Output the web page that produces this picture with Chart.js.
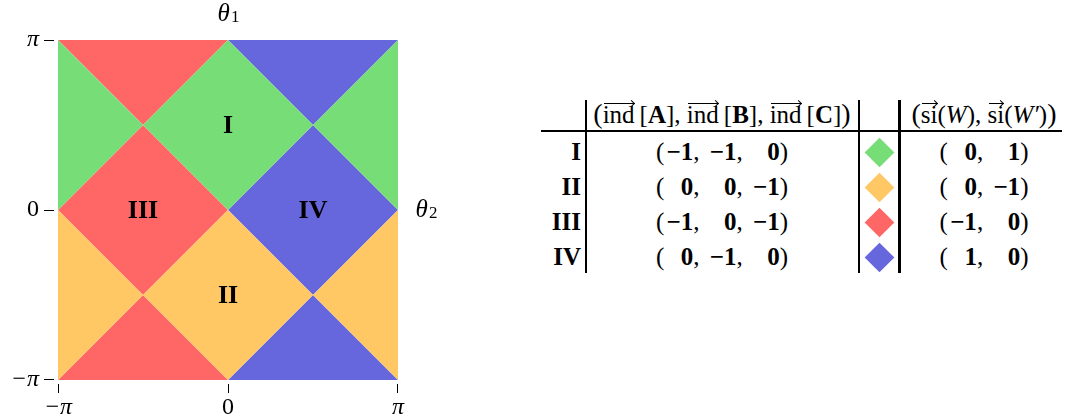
<!DOCTYPE html>
<html>
<head>
<meta charset="utf-8">
<script src="https://cdn.jsdelivr.net/npm/chart.js@4.4.0/dist/chart.umd.min.js"></script>
<style>
  html, body { margin: 0; padding: 0; background: #fff; }
  #page { position: relative; width: 1068px; height: 419px; overflow: hidden; font-family: "Liberation Serif", serif; color: #000; }
  #plotBox { position: absolute; left: 0; top: 0; width: 470px; height: 419px; }
  .cell { position: absolute; height: 34px; line-height: 34px; font-size: 25px; white-space: nowrap; }
  .rule { position: absolute; background: #000; }
  .vec { position: relative; display: inline-block; }
  .vec::before { content: ''; position: absolute; left: 1px; right: 1px; top: 5px; border-top: 1.2px solid #000; }
  .vec::after { content: ''; position: absolute; right: 1px; top: 2.5px; width: 4px; height: 4px; border-top: 1.2px solid #000; border-right: 1.2px solid #000; transform: rotate(45deg); }
  .slot { display: inline-block; text-align: right; font-weight: bold; }
  .big { font-size: 28px; }
  .swatch { position: absolute; width: 21px; height: 21px; transform: rotate(45deg); }
</style>
</head>
<body>
<div id="page">
  <div id="plotBox"><canvas id="phaseChart" width="470" height="419"></canvas></div>
  <div id="tableBox"></div>
</div>
<script>
// Table data (one entry per region)
const rowNames = ['I', 'II', 'III', 'IV'];
const indA = [-1, 0, -1, 0];
const indB = [-1, 0, 0, -1];
const indC = [0, -1, -1, 0];
const siW = [0, 0, -1, 1];
const siWprime = [1, -1, 0, 0];
const regionColors = ['#77dd77', '#ffc864', '#ff6666', '#6666dd'];

// Region shapes, vertices in units of pi (theta1, theta2)
const shapesI = [
  [[0, 0], [0.5, 0.5], [0, 1], [-0.5, 0.5]],
  [[-1, 0], [-0.5, 0.5], [-1, 1]],
  [[1, 0], [0.5, 0.5], [1, 1]]
];
const shapesII = [
  [[0, 0], [0.5, -0.5], [0, -1], [-0.5, -0.5]],
  [[-1, 0], [-0.5, -0.5], [-1, -1]],
  [[1, 0], [0.5, -0.5], [1, -1]]
];
const shapesIII = [
  [[-1, 0], [-0.5, 0.5], [0, 0], [-0.5, -0.5]],
  [[-1, 1], [0, 1], [-0.5, 0.5]],
  [[-1, -1], [0, -1], [-0.5, -0.5]]
];
const shapesIV = [
  [[1, 0], [0.5, 0.5], [0, 0], [0.5, -0.5]],
  [[0, 1], [1, 1], [0.5, 0.5]],
  [[0, -1], [1, -1], [0.5, -0.5]]
];
const regionShapes = [shapesI, shapesII, shapesIII, shapesIV];
const labelSpots = [[0, 0.5], [0, -0.5], [-0.5, 0], [0.5, 0]];

// White boundary lines (units of pi)
const boundaryLines = [
  [[-1, 0], [0, 1]], [[-1, -1], [1, 1]], [[0, -1], [1, 0]],
  [[-1, 0], [0, -1]], [[-1, 1], [1, -1]], [[0, 1], [1, 0]]
];

// Axis ticks
const tickValues = [-1, 0, 1];
const tickLabels = ['−π', '0', 'π'];

const PI = Math.PI;
const toPts = pts => pts.map(p => ({ x: p[0] * PI, y: p[1] * PI }));

var datasets = [];
regionShapes.forEach(function(shapes, r) {
  shapes.forEach(function(s) {
    datasets.push({
      data: toPts(s.concat([s[0]])),
      showLine: true,
      fill: 'shape',
      backgroundColor: regionColors[r],
      borderColor: 'rgba(0,0,0,0)',
      borderWidth: 1,
      pointRadius: 0
    });
  });
});
boundaryLines.forEach(function(seg) {
  datasets.push({
    data: toPts(seg),
    showLine: true,
    fill: false,
    borderColor: '#ffffff',
    borderWidth: 2.5,
    pointRadius: 0
  });
});

const gap = 0.074; // keeps tick marks a few px off the coloured square
function tickText(v) {
  var i = tickValues.findIndex(t => Math.abs(t * PI - v) < 1e-6);
  return i < 0 ? '' : tickLabels[i];
}
function tickFont(ctx) {
  var upright = ctx.tick && Math.abs(ctx.tick.value) < 1e-9;
  return { family: '"Liberation Serif", serif', size: 24, style: upright ? 'normal' : 'italic' };
}
function setTicks(scale) {
  scale.ticks = tickValues.map(v => ({ value: v * PI }));
}

function drawTheta(ctx, sub, cx, cy) {
  ctx.font = 'italic 25px "Liberation Serif"';
  var w1 = ctx.measureText('θ').width;
  ctx.font = '17px "Liberation Serif"';
  var w2 = ctx.measureText(sub).width;
  var x0 = cx - (w1 + w2) / 2;
  ctx.textAlign = 'left';
  ctx.font = 'italic 25px "Liberation Serif"';
  ctx.fillText('θ', x0, cy);
  ctx.font = '17px "Liberation Serif"';
  ctx.fillText(sub, x0 + w1 + 1, cy + 4);
}

const overlayText = {
  id: 'overlayText',
  afterDatasetsDraw(chart) {
    const { ctx, chartArea } = chart;
    const x = chart.scales.x, y = chart.scales.y;
    ctx.save();
    ctx.fillStyle = '#000';
    ctx.textAlign = 'center';
    ctx.textBaseline = 'middle';
    ctx.font = 'bold 26px "Liberation Serif"';
    rowNames.forEach(function(n, i) {
      ctx.fillText(n, x.getPixelForValue(labelSpots[i][0] * PI), y.getPixelForValue(labelSpots[i][1] * PI) + 1);
    });
    drawTheta(ctx, '1', x.getPixelForValue(0), chartArea.top - 22);
    drawTheta(ctx, '2', chartArea.right + 24, y.getPixelForValue(0));
    ctx.restore();
  }
};

new Chart(document.getElementById('phaseChart'), {
  type: 'scatter',
  data: { datasets: datasets },
  options: {
    responsive: false,
    animation: false,
    devicePixelRatio: 1,
    layout: { padding: { left: 0, top: 36, right: 68, bottom: 0 } },
    plugins: { legend: { display: false }, tooltip: { enabled: false } },
    scales: {
      x: {
        type: 'linear',
        min: -PI - gap, max: PI + gap,
        afterBuildTicks: setTicks,
        afterFit: s => { s.height = 35; },
        grid: { drawOnChartArea: false, drawTicks: true, tickLength: 9, color: '#000', lineWidth: 1 },
        border: { display: false },
        ticks: { callback: tickText, font: tickFont, color: '#000', padding: 0, autoSkip: false, maxRotation: 0 }
      },
      y: {
        type: 'linear',
        min: -PI - gap, max: PI + gap,
        afterBuildTicks: setTicks,
        afterFit: s => { s.width = 54; },
        grid: { drawOnChartArea: false, drawTicks: true, tickLength: 10, color: '#000', lineWidth: 1 },
        border: { display: false },
        ticks: { callback: tickText, font: tickFont, color: '#000', padding: 5, autoSkip: false }
      }
    }
  },
  plugins: [overlayText]
});

// ---- table on the right ----
const box = document.getElementById('tableBox');
const headerY = 114;
const rowY = [152, 187, 222, 257];

function addCell(left, width, cy, html, align) {
  var d = document.createElement('div');
  d.className = 'cell';
  d.style.left = left + 'px';
  d.style.width = width + 'px';
  d.style.top = (cy - 17) + 'px';
  d.style.textAlign = align || 'center';
  d.innerHTML = html;
  box.appendChild(d);
}
function addRule(left, top, width, height) {
  var d = document.createElement('div');
  d.className = 'rule';
  d.style.left = left + 'px'; d.style.top = top + 'px';
  d.style.width = width + 'px'; d.style.height = height + 'px';
  box.appendChild(d);
}
function num(v) { return v < 0 ? '−' + Math.abs(v) : String(v); }
function slot(v) { return '<span class="slot" style="width:29px">' + num(v) + '</span>'; }
function tuple(vals) {
  return '(' + vals.map(slot).join(',<span style="display:inline-block;width:8px"></span>') + ')';
}

addCell(586, 272, headerY,
  '<span class="big">(</span><span class="vec">ind</span>&thinsp;[<b>A</b>], <span class="vec">ind</span>&thinsp;[<b>B</b>], <span class="vec">ind</span>&thinsp;[<b>C</b>]<span class="big">)</span>');
addCell(900, 168, headerY,
  '<span class="big">(</span><span class="vec">si</span>(<i>W</i>), <span class="vec">si</span>(<i>W′</i>)<span class="big">)</span>');

rowNames.forEach(function(n, i) {
  addCell(500, 81, rowY[i], '<b>' + n + '</b>', 'right');
  addCell(586, 272, rowY[i], tuple([indA[i], indB[i], indC[i]]));
  addCell(900, 168, rowY[i], tuple([siW[i], siWprime[i]]));
  var s = document.createElement('div');
  s.className = 'swatch';
  s.style.background = regionColors[i];
  s.style.left = (879 - 10.5) + 'px';
  s.style.top = (rowY[i] - 10.5) + 'px';
  box.appendChild(s);
});

addRule(541, 129.5, 521, 2.5);
addRule(584.5, 100, 2.5, 173);
addRule(857.5, 100, 2.5, 173);
addRule(898, 100, 2.5, 173);
</script>
</body>
</html>
